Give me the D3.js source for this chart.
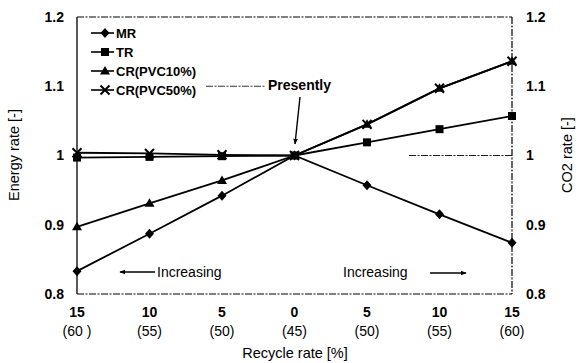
<!DOCTYPE html>
<html><head><meta charset="utf-8">
<script src="https://cdn.jsdelivr.net/npm/d3@7"></script>
<style>body{margin:0;background:#fff}svg{display:block}text{font-family:"Liberation Sans",Arial,sans-serif;fill:#000}</style>
</head><body><svg id="c" width="579" height="363"></svg>
<script>
const xTop = ["15","10","5","0","5","10","15"];
const xBottom = ["(60 )","(55)","(50)","(45)","(50)","(55)","(60)"];
const yTicks = [0.8,0.9,1,1.1,1.2];
const yTickLabels = ["0.8","0.9","1","1.1","1.2"];
const seriesNames = ["MR","TR","CR(PVC10%)","CR(PVC50%)"];
const MR = [0.833,0.887,0.942,1.0,0.957,0.915,0.874];
const TR = [0.997,0.998,0.999,1.0,1.019,1.038,1.057];
const CR10 = [0.897,0.931,0.964,1.0,1.045,1.097,1.136];
const CR50 = [1.004,1.003,1.001,1.0,1.045,1.097,1.136];
const markers = ["diamond","square","triangle","cross"];

const svg = d3.select("#c");
const L=77,R=512,T=17,B=294;
const x = d3.scalePoint().domain(d3.range(7)).range([L,R]);
const y = d3.scaleLinear().domain([0.8,1.2]).range([B,T]);

svg.append("line").attr("x1",L).attr("x2",L).attr("y1",T).attr("y2",B).attr("stroke","#000").attr("stroke-width",1.3);
const dash = {"stroke":"#000","stroke-width":1.2,"stroke-dasharray":"7,1.5,2,1.5"};
function dl(x1,y1,x2,y2,w){const l=svg.append("line").attr("x1",x1).attr("y1",y1).attr("x2",x2).attr("y2",y2);for(const k in dash)l.attr(k,dash[k]);if(w)l.attr("stroke-width",w);return l;}
dl(L,T,R,T);dl(R,T,R,B);dl(L,B,R,B);
dl(x(4)+42,y(1),R,y(1),0.9);
dl(206,y(1.1),266,y(1.1),0.8);

const left = svg.append("g");
yTicks.forEach((v,i)=>{
  left.append("text").attr("x",64).attr("y",y(v)).attr("dy","0.35em").attr("text-anchor","end").attr("font-size",14).attr("font-weight","bold").text(yTickLabels[i]);
  left.append("text").attr("x",526).attr("y",y(v)).attr("dy","0.35em").attr("text-anchor","start").attr("font-size",14).attr("font-weight","bold").text(yTickLabels[i]);
});
xTop.forEach((t,i)=>{
  svg.append("text").attr("x",x(i)).attr("y",317).attr("text-anchor","middle").attr("font-size",14).attr("font-weight","bold").text(t);
  svg.append("text").attr("x",x(i)).attr("y",336).attr("text-anchor","middle").attr("font-size",14).text(xBottom[i]);
});
svg.append("text").attr("x",295).attr("y",358).attr("text-anchor","middle").attr("font-size",14.5).text("Recycle rate [%]");
svg.append("text").attr("transform","translate(19,155) rotate(-90)").attr("text-anchor","middle").attr("font-size",14.5).text("Energy rate [-]");
svg.append("text").attr("transform","translate(572,155) rotate(-90)").attr("text-anchor","middle").attr("font-size",14.5).text("CO2 rate [-]");

const data=[MR,TR,CR10,CR50];
const line=d3.line().x((d,i)=>x(i)).y(d=>y(d));
function marker(g,type,cx,cy){
  if(type==="diamond") g.append("path").attr("d",`M${cx},${cy-5}L${cx+4.5},${cy}L${cx},${cy+5}L${cx-4.5},${cy}Z`).attr("fill","#000");
  else if(type==="square") g.append("rect").attr("x",cx-4).attr("y",cy-4).attr("width",8).attr("height",8).attr("fill","#000");
  else if(type==="triangle") g.append("path").attr("d",`M${cx},${cy-5}L${cx+5},${cy+3.5}L${cx-5},${cy+3.5}Z`).attr("fill","#000");
  else g.append("path").attr("d",`M${cx-4.5},${cy-4.5}L${cx+4.5},${cy+4.5}M${cx+4.5},${cy-4.5}L${cx-4.5},${cy+4.5}`).attr("stroke","#000").attr("stroke-width",2);
}
data.forEach((s,k)=>{
  const g=svg.append("g");
  g.append("path").attr("d",line(s)).attr("fill","none").attr("stroke","#000").attr("stroke-width",1.8);
  s.forEach((v,i)=>marker(g,markers[k],x(i),y(v)));
});

seriesNames.forEach((n,k)=>{
  const ly=33+k*19;
  svg.append("line").attr("x1",91).attr("x2",114).attr("y1",ly).attr("y2",ly).attr("stroke","#000").attr("stroke-width",1.6);
  marker(svg,markers[k],105,ly);
  svg.append("text").attr("x",116).attr("y",ly).attr("dy","0.36em").attr("font-size",13).attr("font-weight","bold").text(n);
});

svg.append("defs").append("marker").attr("id","ah").attr("viewBox","0 0 10 10").attr("refX",9).attr("refY",5).attr("markerWidth",6).attr("markerHeight",6).attr("orient","auto").attr("markerUnits","userSpaceOnUse")
  .append("path").attr("d","M0,1L10,5L0,9Z").attr("fill","#000");
svg.append("text").attr("x",268).attr("y",90).attr("font-size",14).attr("font-weight","bold").text("Presently");
svg.append("line").attr("x1",300).attr("y1",97).attr("x2",295).attr("y2",144).attr("stroke","#000").attr("stroke-width",1.4).attr("marker-end","url(#ah)");
svg.append("line").attr("x1",155).attr("y1",272).attr("x2",120).attr("y2",272).attr("stroke","#000").attr("stroke-width",1.3).attr("marker-end","url(#ah)");
svg.append("text").attr("x",157).attr("y",277).attr("font-size",14).text("Increasing");
svg.append("text").attr("x",343).attr("y",277).attr("font-size",14).text("Increasing");
svg.append("line").attr("x1",430).attr("y1",273).attr("x2",466).attr("y2",273).attr("stroke","#000").attr("stroke-width",1.3).attr("marker-end","url(#ah)");
</script></body></html>
